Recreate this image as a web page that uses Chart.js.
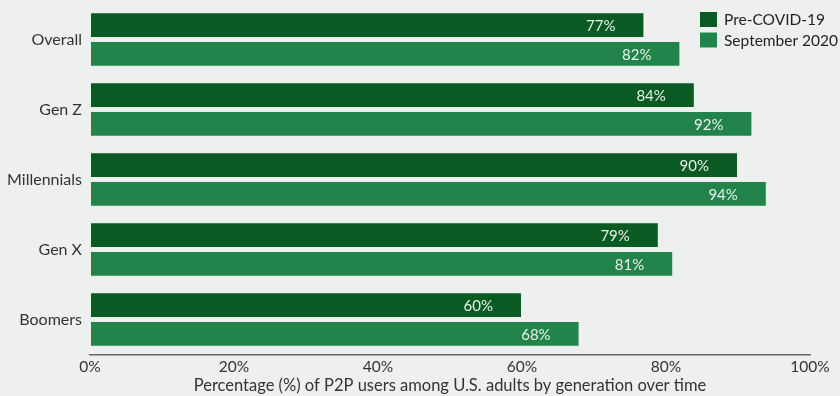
<!DOCTYPE html>
<html>
<head>
<meta charset="utf-8">
<script src="https://cdn.jsdelivr.net/npm/chart.js@4"></script>
<style>
  html, body { margin: 0; padding: 0; background: #eef0ef; }
  #wrap { width: 840px; height: 396px; }
</style>
</head>
<body>
<div id="wrap"><canvas id="chart" width="840" height="396"></canvas></div>
<script>
const categories = ["Overall", "Gen Z", "Millennials", "Gen X", "Boomers"];
const preCovid = [77, 84, 90, 79, 60];
const sept2020 = [82, 92, 94, 81, 68];
const seriesNames = ["Pre-COVID-19", "September 2020"];
const xTicks = [0, 20, 40, 60, 80, 100];

const darkGreen = "#0b5a24";
const lightGreen = "#23844b";
const fontFamily = "Lato, 'Open Sans', sans-serif";

// labels inside the bar ends
const barLabels = {
  id: "barLabels",
  afterDatasetsDraw(chart) {
    const ctx = chart.ctx;
    ctx.save();
    ctx.font = "15px " + fontFamily;
    ctx.fillStyle = "#e6f1e9";
    ctx.textAlign = "right";
    ctx.textBaseline = "middle";
    chart.data.datasets.forEach((ds, i) => {
      chart.getDatasetMeta(i).data.forEach((bar, j) => {
        ctx.fillText(ds.data[j] + "%", bar.x - 29, bar.y + 1);
      });
    });
    ctx.restore();
  }
};

// legend top right, over the plot
const cornerLegend = {
  id: "cornerLegend",
  afterDraw(chart) {
    const ctx = chart.ctx;
    ctx.save();
    ctx.font = "15.5px " + fontFamily;
    ctx.textBaseline = "middle";
    chart.data.datasets.forEach((ds, i) => {
      const y = 12 + i * 20.5;
      ctx.fillStyle = ds.backgroundColor;
      ctx.fillRect(700, y, 17, 15);
      ctx.fillStyle = "#222";
      ctx.fillText(ds.label, 724, y + 8);
    });
    ctx.restore();
  }
};

new Chart(document.getElementById("chart"), {
  type: "bar",
  data: {
    labels: categories,
    datasets: [
      { label: seriesNames[0], data: preCovid, backgroundColor: darkGreen },
      { label: seriesNames[1], data: sept2020, backgroundColor: lightGreen }
    ]
  },
  options: {
    indexAxis: "y",
    responsive: false,
    animation: false,
    layout: { padding: { top: 4.5, right: 30, left: 0, bottom: 0 } },
    datasets: {
      bar: {
        categoryPercentage: 0.82,
        barPercentage: 0.9,
        borderWidth: 1,
        borderColor: "rgba(225,240,230,0.8)",
        borderSkipped: false
      }
    },
    plugins: {
      legend: { display: false },
      tooltip: { enabled: false }
    },
    scales: {
      x: {
        min: 0,
        max: 100,
        afterBuildTicks: axis => { axis.ticks = xTicks.map(v => ({ value: v })); },
        afterFit: axis => { axis.height = 41.5; },
        grid: { display: false, drawTicks: false },
        border: { display: true, color: "#666", width: 1.5 },
        ticks: {
          padding: 3,
          color: "#333",
          font: { size: 15.5, family: fontFamily },
          callback: v => v + "%"
        },
        title: {
          display: true,
          text: "Percentage (%) of P2P users among U.S. adults by generation over time",
          color: "#333",
          font: { size: 16.5, family: fontFamily },
          padding: { top: 1, bottom: 0 }
        }
      },
      y: {
        afterFit: axis => {
          axis.width = 90;
          axis.paddingTop = 0;
          axis.paddingBottom = 0;
        },
        grid: { display: false, drawTicks: false },
        border: { display: false },
        ticks: {
          padding: 8,
          color: "#333",
          font: { size: 16, family: fontFamily }
        }
      }
    }
  },
  plugins: [barLabels, cornerLegend]
});
</script>
</body>
</html>
